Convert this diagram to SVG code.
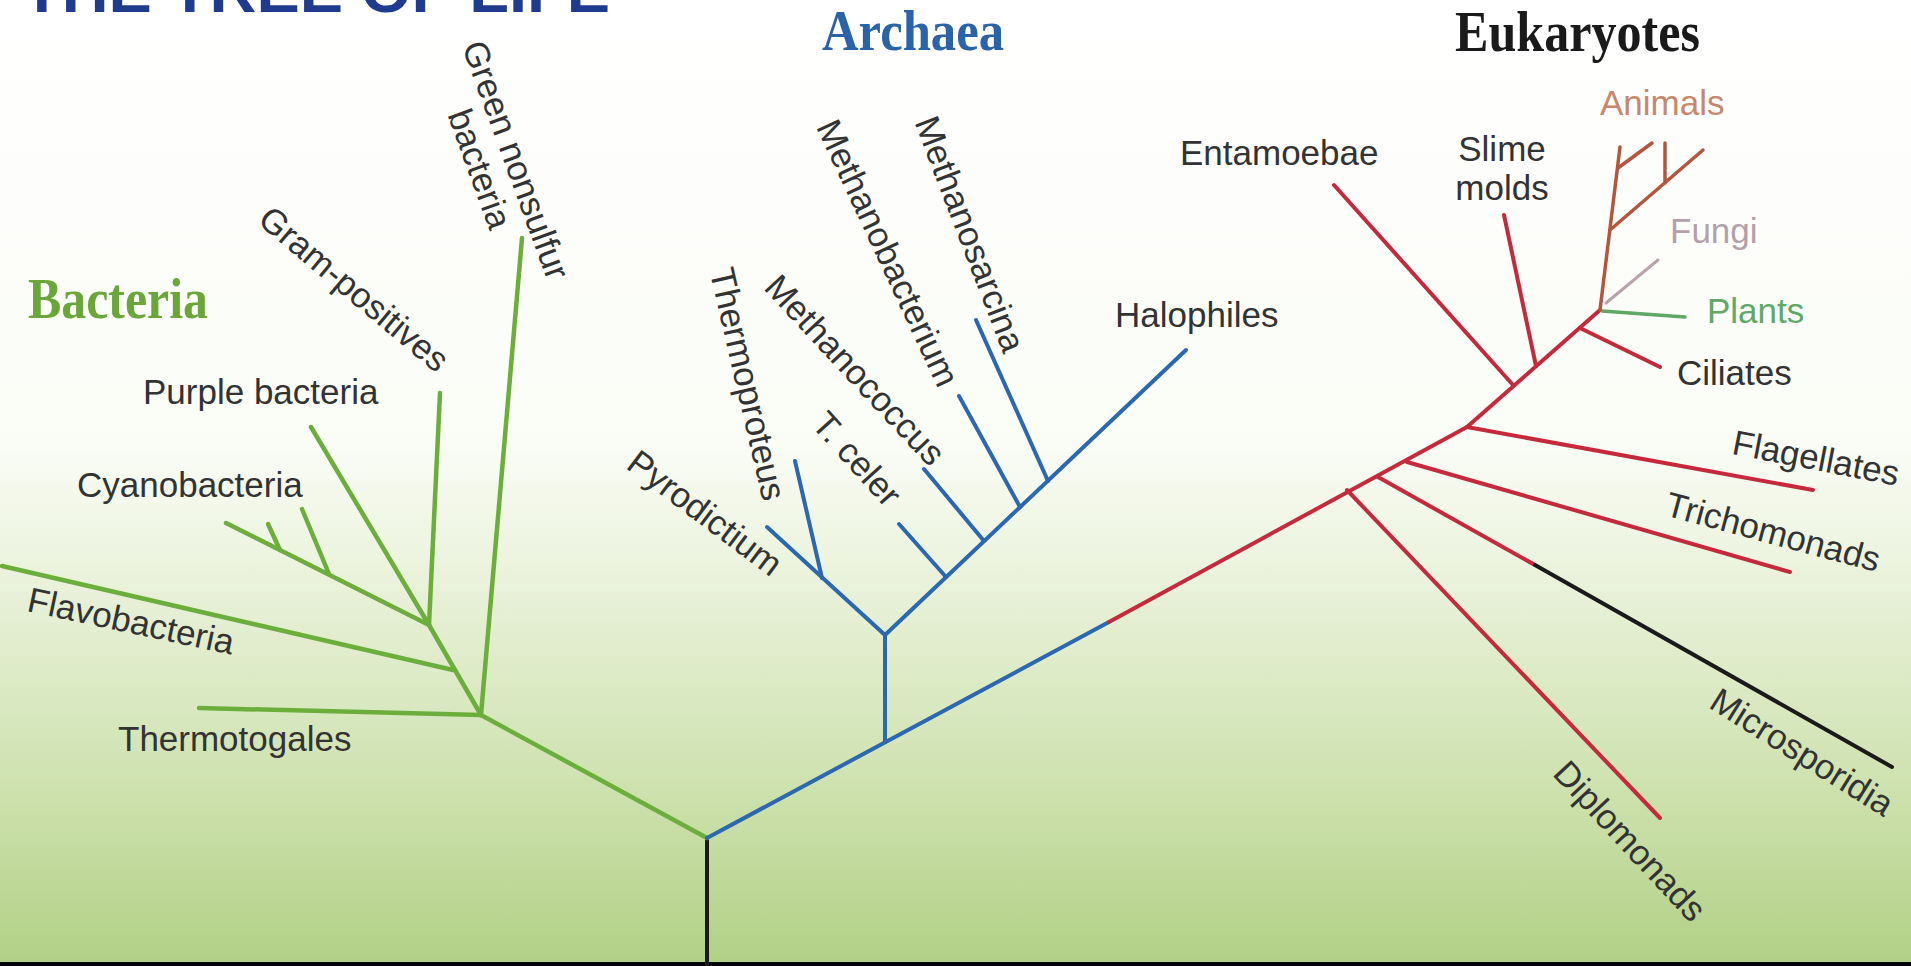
<svg xmlns="http://www.w3.org/2000/svg" width="1911" height="966" viewBox="0 0 1911 966">
<defs>
<linearGradient id="bg" x1="0" y1="0" x2="0" y2="1">
<stop offset="0" stop-color="#ffffff"/>
<stop offset="0.45" stop-color="#fbfdf7"/>
<stop offset="0.6" stop-color="#eaf2db"/>
<stop offset="0.8" stop-color="#d0e3b2"/>
<stop offset="1" stop-color="#b1d085"/>
</linearGradient>
<style>
.lbl{font-family:"Liberation Sans",Arial,sans-serif;font-size:35px;fill:#333333}
.rot{text-anchor:middle}
.dom{font-family:"Liberation Serif","Times New Roman",serif;font-weight:bold;font-size:56px}
.b{stroke:#6cae3c;stroke-width:4.5;fill:none;stroke-linecap:round}
.a{stroke:#2b68b0;stroke-width:4;fill:none;stroke-linecap:round}
.e{stroke:#c42a3c;stroke-width:4;fill:none;stroke-linecap:round}
.an{stroke:#b4553e;stroke-width:3.5;fill:none;stroke-linecap:round}
.k{stroke:#1a1a1a;stroke-width:4;fill:none;stroke-linecap:round}
</style>
</defs>
<rect x="0" y="0" width="1911" height="966" fill="url(#bg)"/>
<rect x="0" y="962" width="1911" height="4" fill="#000000"/>

<g id="title">
<text x="22" y="12" font-family="'Liberation Sans',Arial,sans-serif" font-weight="bold" font-size="62" fill="#1f3b8e" textLength="588" lengthAdjust="spacingAndGlyphs">THE TREE OF LIFE</text>
</g>

<g id="connectors">
<line class="k" x1="707" y1="838" x2="707" y2="966"/>
<!-- Bacteria -->
<line class="b" x1="707" y1="838" x2="481" y2="715"/>
<line class="b" x1="481" y1="715" x2="199" y2="708"/>
<line class="b" x1="481" y1="715" x2="522" y2="238"/>
<line class="b" x1="481" y1="715" x2="429" y2="625"/>
<line class="b" x1="453" y1="670" x2="2" y2="566"/>
<line class="b" x1="429" y1="625" x2="440" y2="393"/>
<line class="b" x1="429" y1="625" x2="311" y2="427"/>
<line class="b" x1="429" y1="625" x2="226" y2="523"/>
<line class="b" x1="329" y1="574" x2="302" y2="509"/>
<line class="b" x1="280" y1="550" x2="268" y2="524"/>
<!-- Archaea -->
<line class="a" x1="707" y1="838" x2="1109" y2="622"/>
<line class="a" x1="885" y1="742" x2="885" y2="635"/>
<line class="a" x1="885" y1="635" x2="767" y2="527"/>
<line class="a" x1="822" y1="578" x2="795" y2="461"/>
<line class="a" x1="885" y1="635" x2="1186" y2="350"/>
<line class="a" x1="946" y1="577" x2="899" y2="524"/>
<line class="a" x1="984" y1="541" x2="924" y2="469"/>
<line class="a" x1="1020" y1="507" x2="959" y2="396"/>
<line class="a" x1="1048" y1="481" x2="976" y2="320"/>
<!-- Eukaryotes -->
<line class="e" x1="1109" y1="622" x2="1467" y2="427"/>
<line class="e" x1="1467" y1="427" x2="1600" y2="310"/>
<line class="e" x1="1347" y1="490" x2="1660" y2="818"/>
<line class="e" x1="1378" y1="477" x2="1535" y2="565"/>
<line class="k" x1="1535" y1="565" x2="1892" y2="767"/>
<line class="e" x1="1407" y1="462" x2="1790" y2="572"/>
<line class="e" x1="1467" y1="427" x2="1813" y2="490"/>
<line class="e" x1="1513" y1="385" x2="1334" y2="185"/>
<line class="e" x1="1536" y1="366" x2="1504" y2="215"/>
<line class="e" x1="1580" y1="328" x2="1660" y2="367"/>
<line stroke="#5fa866" stroke-width="3.5" stroke-linecap="round" x1="1602" y1="311" x2="1685" y2="317"/>
<line stroke="#b9a3ad" stroke-width="3" stroke-linecap="round" x1="1606" y1="303" x2="1658" y2="260"/>
<line class="an" x1="1600" y1="310" x2="1620" y2="147"/>
<line class="an" x1="1610" y1="230" x2="1703" y2="150"/>
<line class="an" x1="1665" y1="183" x2="1665" y2="143"/>
<line class="an" x1="1618" y1="168" x2="1652" y2="143"/>
</g>

<g id="domain-bacteria"><text class="dom" x="28" y="318" fill="#6aa63a" textLength="180" lengthAdjust="spacingAndGlyphs">Bacteria</text></g>
<g id="domain-archaea"><text class="dom" x="822" y="50" fill="#2b63a8" textLength="182" lengthAdjust="spacingAndGlyphs">Archaea</text></g>
<g id="domain-eukaryotes"><text class="dom" x="1455" y="51" fill="#1a1a1a" textLength="245" lengthAdjust="spacingAndGlyphs">Eukaryotes</text></g>

<g id="node-green-nonsulfur"><text class="lbl rot" transform="translate(516,160) rotate(70)"><tspan x="0" y="12">Green nonsulfur</tspan><tspan x="-4" y="49">bacteria</tspan></text></g>
<g id="node-gram-positives"><text class="lbl rot" transform="translate(354,289) rotate(40)" x="0" y="12">Gram-positives</text></g>
<g id="node-purple-bacteria"><text class="lbl" x="143" y="404">Purple bacteria</text></g>
<g id="node-cyanobacteria"><text class="lbl" x="77" y="497">Cyanobacteria</text></g>
<g id="node-flavobacteria"><text class="lbl rot" transform="translate(131,621) rotate(12)" x="0" y="12">Flavobacteria</text></g>
<g id="node-thermotogales"><text class="lbl" x="118" y="751">Thermotogales</text></g>

<g id="node-pyrodictium"><text class="lbl rot" transform="translate(705,513) rotate(37)" x="0" y="12">Pyrodictium</text></g>
<g id="node-thermoproteus"><text class="lbl rot" transform="translate(748,384) rotate(77)" x="0" y="12">Thermoproteus</text></g>
<g id="node-methanococcus"><text class="lbl rot" transform="translate(855,370) rotate(47)" x="0" y="12">Methanococcus</text></g>
<g id="node-t-celer"><text class="lbl rot" transform="translate(857,459) rotate(48)" x="0" y="12">T. celer</text></g>
<g id="node-methanobacterium"><text class="lbl rot" transform="translate(888,253) rotate(65)" x="0" y="12">Methanobacterium</text></g>
<g id="node-methanosarcina"><text class="lbl rot" transform="translate(970,234) rotate(69)" x="0" y="12">Methanosarcina</text></g>
<g id="node-halophiles"><text class="lbl" x="1115" y="327">Halophiles</text></g>

<g id="node-entamoebae"><text class="lbl" x="1180" y="165">Entamoebae</text></g>
<g id="node-slime-molds"><text class="lbl" text-anchor="middle"><tspan x="1502" y="161">Slime</tspan><tspan x="1502" y="200">molds</tspan></text></g>
<g id="node-animals"><text class="lbl" x="1600" y="115" style="fill:#c8876a">Animals</text></g>
<g id="node-fungi"><text class="lbl" x="1670" y="243" style="fill:#b4a0aa">Fungi</text></g>
<g id="node-plants"><text class="lbl" x="1707" y="323" style="fill:#5fa866">Plants</text></g>
<g id="node-ciliates"><text class="lbl" x="1677" y="385">Ciliates</text></g>
<g id="node-flagellates"><text class="lbl rot" transform="translate(1816,458) rotate(11)" x="0" y="12">Flagellates</text></g>
<g id="node-trichomonads"><text class="lbl rot" transform="translate(1773,532) rotate(15)" x="0" y="12">Trichomonads</text></g>
<g id="node-microsporidia"><text class="lbl rot" transform="translate(1802,752) rotate(32)" x="0" y="12">Microsporidia</text></g>
<g id="node-diplomonads"><text class="lbl rot" transform="translate(1630,841) rotate(47)" x="0" y="12">Diplomonads</text></g>
</svg>
